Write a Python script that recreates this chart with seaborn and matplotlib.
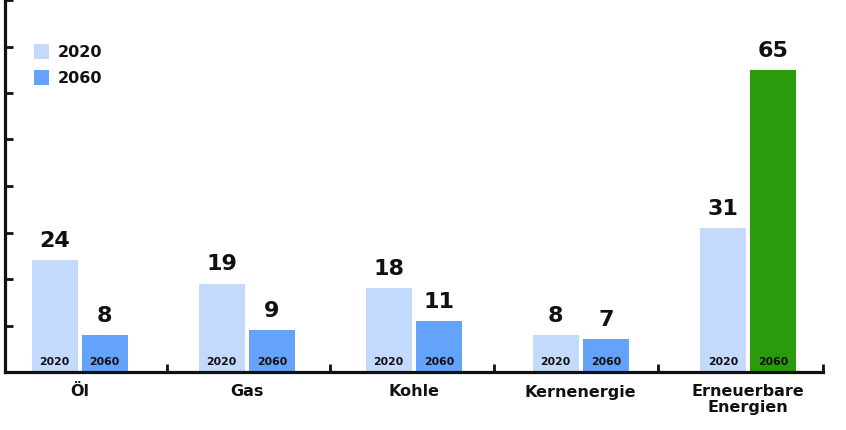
import pandas as pd
import matplotlib
matplotlib.use("Agg")
import matplotlib.pyplot as plt
import seaborn as sns

# data
categories = ["Öl", "Gas", "Kohle", "Kernenergie", "Erneuerbare\nEnergien"]
years = ["2020", "2060"]
values_2020 = [24, 19, 18, 8, 31]
values_2060 = [8, 9, 11, 7, 65]

colors = {"2020": "#c3dafd", "2060": "#65a2fb"}
green = "#2a9c0b"

df = pd.DataFrame({
    "Energie": categories * 2,
    "Jahr": [years[0]] * len(categories) + [years[1]] * len(categories),
    "Wert": values_2020 + values_2060,
})

sns.set_style("white")
plt.rcParams["font.family"] = ["DejaVu Sans"]

fig = plt.figure(figsize=(8.46, 4.30), dpi=100)
ax = fig.add_axes([4.5 / 846, 58 / 430, (823 - 4.5) / 846, 372 / 430])

sns.barplot(data=df, x="Energie", y="Wert", hue="Jahr", hue_order=years,
            order=categories, palette=colors, width=0.6, gap=0.08,
            saturation=1, linewidth=0, ax=ax)

# the 2060 renewable bar is green
ax.containers[1][4].set_facecolor(green)

for cont, yr in zip(ax.containers, years):
    for bar in cont:
        x = bar.get_x() + bar.get_width() / 2
        h = bar.get_height()
        ax.annotate(f"{h:.0f}", (x, h), xytext=(0, 9.5), textcoords="offset points",
                    ha="center", va="baseline", fontsize=16, fontweight="bold",
                    color="#111111")
        ax.annotate(yr, (x, 0), xytext=(0, 5), textcoords="offset points",
                    ha="center", va="baseline", fontsize=7.8, fontweight="bold",
                    color="#111111")

ax.set_xlim(-0.45, 4.45)
ax.set_ylim(0, 80)
ax.set_xlabel("")
ax.set_ylabel("")

ax.set_yticks(range(10, 81, 10))
ax.set_yticklabels([])
ax.tick_params(axis="y", direction="in", length=5.5, width=2, color="#111111", left=True)

ax.set_xticks(range(len(categories)))
ax.set_xticklabels(categories, fontsize=11.5, fontweight="bold", linespacing=1.05)
ax.tick_params(axis="x", length=0, pad=9, colors="#111111")
ax.set_xticks([0.52, 1.5, 2.48, 3.46, 4.45], minor=True)
ax.tick_params(axis="x", which="minor", direction="in", length=6, width=2,
               color="#111111", bottom=True)

for s in ["top", "right"]:
    ax.spines[s].set_visible(False)
for s in ["left", "bottom"]:
    ax.spines[s].set_linewidth(2.3)
    ax.spines[s].set_color("#111111")

handles, labels = ax.get_legend_handles_labels()
leg = ax.legend(handles, labels, loc="upper left", bbox_to_anchor=(34 / 846, 1 - 44 / 430),
                bbox_transform=fig.transFigure, frameon=False, borderpad=0, borderaxespad=0,
                handlelength=0.95, handleheight=1.1, handletextpad=0.55, labelspacing=0.6,
                prop={"size": 11.5, "weight": "bold"})
for t in leg.get_texts():
    t.set_color("#111111")

fig.savefig("out.png", dpi=100)
